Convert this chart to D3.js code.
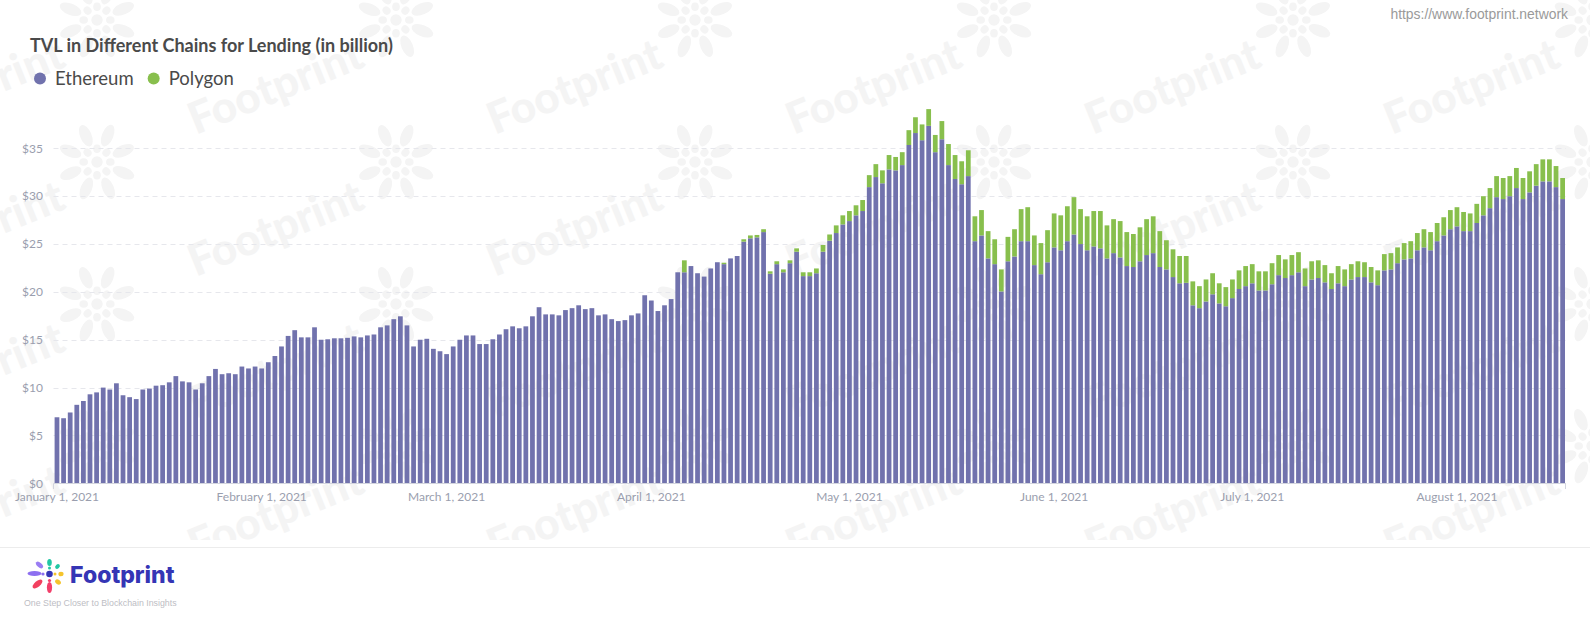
<!DOCTYPE html>
<html><head><meta charset="utf-8">
<script src="https://cdn.jsdelivr.net/npm/d3@7"></script>
<style>body{margin:0;background:#fff;overflow:hidden}svg{display:block}</style>
</head><body><svg id="c" width="1590" height="619"></svg>
<script>
// ---------------- data ----------------
const startDate = "2021-01-01";
const ethereum = [
6.9,6.8,7.4,8.2,8.6,9.3,9.5,10.0,9.8,10.45,9.2,9.0,8.8,9.8,9.9,10.2,10.25,10.55,11.2,10.65,10.55,9.8,10.45,11.2,11.95,11.4,11.5,
11.4,12.2,12.0,12.2,12.0,12.65,13.3,14.3,15.4,16.0,15.25,15.25,16.3,15.0,15.05,15.15,15.15,15.2,15.35,15.25,15.45,15.55,16.3,16.5,17.15,17.45,16.5,14.3,
15.0,15.1,14.05,13.8,13.5,14.3,15.0,15.45,15.45,14.55,14.55,15.05,15.55,16.1,16.4,16.2,16.4,17.45,18.4,17.65,17.65,17.55,18.1,18.3,18.6,18.2,18.3,17.55,17.65,
17.15,16.95,17.05,17.55,17.75,19.65,19.1,18.0,18.6,19.25,22.05,22.05,22.7,21.95,21.6,22.45,23.1,22.9,23.5,23.75,25.25,25.6,25.7,26.25,21.9,22.9,22.05,23.0,24.2,
21.65,21.65,21.95,24.2,25.35,26.15,27.05,27.4,28.0,28.45,30.95,32.0,31.35,32.8,32.7,33.25,35.35,36.6,35.85,37.35,34.6,35.95,33.25,31.8,31.25,32.1,25.3,25.9,23.5,
22.9,20.05,23.2,23.7,25.3,25.3,22.8,21.85,23.1,24.65,24.35,25.3,26.0,25.0,24.35,24.75,24.55,23.5,24.05,23.6,22.7,22.6,23.2,23.85,24.05,22.6,22.35,21.55,20.9,
20.95,18.6,18.3,19.0,19.75,18.8,18.5,19.35,20.3,20.6,20.9,20.15,20.15,20.8,21.75,21.45,21.75,22.05,20.6,21.3,21.45,21.0,20.3,20.9,20.6,21.3,21.55,21.55,
21.0,20.7,22.25,22.35,23.0,23.4,23.5,24.35,24.65,24.35,25.3,25.9,26.55,26.85,26.35,26.35,27.2,28.0,28.75,29.9,29.7,30.0,30.85,29.7,30.4,31.1,31.55,31.55,30.95,29.7
];
const polygon = [
0,0,0,0,0,0,0,0,0,0,0,0,0,0,0,0,0,0,0,0,0,0,0,0,0,0,0,
0,0,0,0,0,0,0,0,0,0,0,0,0,0,0,0,0,0,0,0,0,0,0,0,0,0,0,0,
0,0,0,0,0,0,0,0,0,0,0,0,0,0,0,0,0,0,0,0,0,0,0,0,0,0,0,0,0,
0,0,0,0,0,0,0,0,0,0,0,1.25,0,0,0,0,0,0.15,0,0,0.25,0.3,0.25,0.3,0.25,0.3,0.3,0.3,0.35,
0.4,0.4,0.5,0.7,0.65,0.8,0.95,1.05,1.05,1.15,1.25,1.35,1.35,1.5,1.4,1.35,1.55,1.65,1.65,1.75,1.8,1.9,2.2,2.5,2.4,2.7,2.6,2.65,2.85,
2.6,2.3,2.55,2.85,3.35,3.55,3.1,3.25,3.35,3.55,3.65,3.65,3.9,3.65,3.55,3.7,3.9,3.45,3.55,3.8,3.55,3.45,3.55,3.75,3.85,3.75,3.05,2.9,2.85,
2.8,2.5,2.3,2.3,2.2,2.1,2.0,1.95,1.95,2.1,2.0,2.0,2.0,2.2,2.1,1.95,2.1,2.1,1.85,1.9,1.85,1.8,1.65,1.8,1.75,1.6,1.65,1.55,
1.6,1.55,1.7,1.7,1.65,1.7,1.8,1.8,1.9,1.9,1.9,1.9,2.0,2.0,2.0,1.85,2.0,2.0,2.1,2.2,2.2,2.1,2.1,2.2,2.2,2.25,2.3,2.3,2.2,2.2
];
const seriesNames = ["Ethereum", "Polygon"];
const seriesColors = ["#7172AD", "#88BF4D"];
const yTicks = [0, 5, 10, 15, 20, 25, 30, 35];
const yTickLabels = ["$0", "$5", "$10", "$15", "$20", "$25", "$30", "$35"];
const xTickDates = ["2021-01-01","2021-02-01","2021-03-01","2021-04-01","2021-05-01","2021-06-01","2021-07-01","2021-08-01"];
const xTickLabels = ["January 1, 2021","February 1, 2021","March 1, 2021","April 1, 2021","May 1, 2021","June 1, 2021","July 1, 2021","August 1, 2021"];
const title = "TVL in Different Chains for Lending (in billion)";

// ---------------- build ----------------
const svg = d3.select("#c");
const W = 1590, H = 619;
const parse = d3.utcParse("%Y-%m-%d");
const fmt = d3.utcFormat("%Y-%m-%d");
const start = parse(startDate);
const rows = ethereum.map((v, i) => ({date: fmt(d3.utcDay.offset(start, i)), Ethereum: v, Polygon: polygon[i]}));

// watermark
svg.append("defs").append("clipPath").attr("id", "wmclip").append("rect").attr("x", 0).attr("y", 0).attr("width", W).attr("height", 540);
const wm = svg.append("g").attr("clip-path", "url(#wmclip)");
const WMC = "#f4f4f4";
function flower(g, cx, cy, s, color) {
  const f = g.append("g").attr("transform", `translate(${cx},${cy}) scale(${s})`).attr("fill", color);
  f.append("circle").attr("r", 6);
  for (let k = 0; k < 8; k++) {
    const a = k * 45;
    f.append("ellipse").attr("transform", `rotate(${a}) translate(0,-14)`).attr("rx", 4).attr("ry", 4.5);
    f.append("ellipse").attr("transform", `rotate(${a + 22}) translate(0,-30)`).attr("rx", 6).attr("ry", 12);
  }
}
for (let r = -1; r < 5; r++) {
  for (let c = -1; c < 6; c++) {
    const fx = 97 + 299 * c, fy = 20 + 142 * r;
    flower(wm, fx, fy, 0.95, WMC);
    const tx = fx + 180, ty = fy + 70;
    wm.append("text").attr("x", tx).attr("y", ty)
      .attr("transform", `rotate(-22 ${tx} ${ty})`)
      .attr("text-anchor", "middle").attr("dominant-baseline", "middle")
      .attr("font-family", "Lato, sans-serif").attr("font-weight", 900).attr("font-size", 44)
      .attr("fill", WMC).text("Footprint");
  }
}

// url
svg.append("text").attr("x", 1568).attr("y", 19).attr("text-anchor", "end")
  .attr("font-family", "'Liberation Sans', Arial, sans-serif").attr("font-size", 13.9).attr("fill", "#9a9a9a")
  .text("https://www.footprint.network");

// title
svg.append("text").attr("x", 30).attr("y", 51.5)
  .attr("font-family", "Lato, sans-serif").attr("font-weight", 700).attr("font-size", 18)
  .attr("fill", "#4a4a4a").text(title);

// legend
const leg = svg.append("g");
let lx = 40;
seriesNames.forEach((n, i) => {
  leg.append("circle").attr("cx", lx).attr("cy", 78.5).attr("r", 6).attr("fill", seriesColors[i]);
  const t = leg.append("text").attr("x", lx + 15).attr("y", 85)
    .attr("font-family", "Lato, sans-serif").attr("font-size", 18.5).attr("font-weight", 400).attr("fill", "#4a4a4a").text(n);
  lx += 15 + t.node().getComputedTextLength() + 20;
});

// scales
const x = d3.scaleBand().domain(rows.map(d => d.date)).range([54.6, 1565]).paddingInner(0.28).paddingOuter(0);
const y = d3.scaleLinear().domain([0, 40]).range([483.3, 100.5]);

// grid
const grid = svg.append("g");
yTicks.forEach((t, i) => {
  if (t > 0) grid.append("line").attr("x1", 53.5).attr("x2", 1566).attr("y1", Math.round(y(t)) + 0.5).attr("y2", Math.round(y(t)) + 0.5)
    .attr("stroke", "#e6e7ec").attr("stroke-dasharray", "5,4");
  grid.append("text").attr("x", 43).attr("y", y(t)).attr("dy", "0.35em").attr("text-anchor", "end")
    .attr("font-family", "Lato, sans-serif").attr("font-size", 12).attr("fill", "#9a9eae").text(yTickLabels[i]);
});

// bars
const stack = d3.stack().keys(seriesNames)(rows);
svg.append("g").selectAll("g").data(stack).join("g").attr("fill", (d, i) => seriesColors[i])
  .selectAll("rect").data(d => d).join("rect")
  .attr("x", d => x(d.data.date)).attr("width", x.bandwidth())
  .attr("y", d => y(d[1])).attr("height", d => Math.max(0, y(d[0]) - y(d[1])));

// x axis
const xa = svg.append("g");
xa.append("line").attr("x1", 53.5).attr("x2", 1566).attr("y1", 483.5).attr("y2", 483.5).attr("stroke", "#d3d5de");
[53.5, 1565.5].forEach(px => xa.append("line").attr("x1", px).attr("x2", px).attr("y1", 483.5).attr("y2", 489).attr("stroke", "#d3d5de"));
xTickDates.forEach((d, i) => {
  xa.append("text").attr("x", x(d) + x.bandwidth() / 2).attr("y", 496.5).attr("dy", "0.35em").attr("text-anchor", "middle")
    .attr("font-family", "Lato, sans-serif").attr("font-size", 12).attr("fill", "#9a9eae").text(xTickLabels[i]);
});

// footer
svg.append("line").attr("x1", 0).attr("x2", W).attr("y1", 547.5).attr("y2", 547.5).attr("stroke", "#ececec");
const lg = svg.append("g").attr("transform", "translate(49.5,574)");
const petals = [
  [-15, -0.5, 7, 2.6, 0, "#8d6ff0"], [-10, -9, 4.2, 2.3, 40, "#9a7df3"], [0, -11.5, 2.3, 3.6, 0, "#22c7a4"],
  [8, -7.5, 2.6, 2, -40, "#22c7a4"], [11.5, 0, 2.6, 2.3, 0, "#f5c42c"], [8.5, 8, 3.2, 2.3, 40, "#f5c42c"],
  [0, 13.5, 2.6, 5.5, 0, "#f23f6a"], [-12, 10, 6, 2.8, -40, "#f2405f"],
  [-6.5, 0, 1.6, 1.6, 0, "#8d6ff0"], [0, -6, 1.5, 1.5, 0, "#22c7a4"], [5.5, 0, 1.5, 1.5, 0, "#f5c42c"], [0, 6.5, 1.6, 1.6, 0, "#f23f6a"]
];
petals.forEach(p => lg.append("ellipse").attr("transform", `translate(${p[0]},${p[1]}) rotate(${p[4]})`).attr("rx", p[2]).attr("ry", p[3]).attr("fill", p[5]));
lg.append("circle").attr("r", 3.3).attr("fill", "#3535b5");
svg.append("text").attr("x", 70).attr("y", 582.5).attr("font-family", "Inter, 'Open Sans', sans-serif").attr("font-weight", 800)
  .attr("font-size", 23).attr("fill", "#3535b5").text("Footprint");
svg.append("text").attr("x", 24).attr("y", 606).attr("font-family", "'Liberation Sans', Arial, sans-serif")
  .attr("font-size", 8.8).attr("fill", "#bdbdc4").text("One Step Closer to Blockchain Insights");
</script></body></html>
